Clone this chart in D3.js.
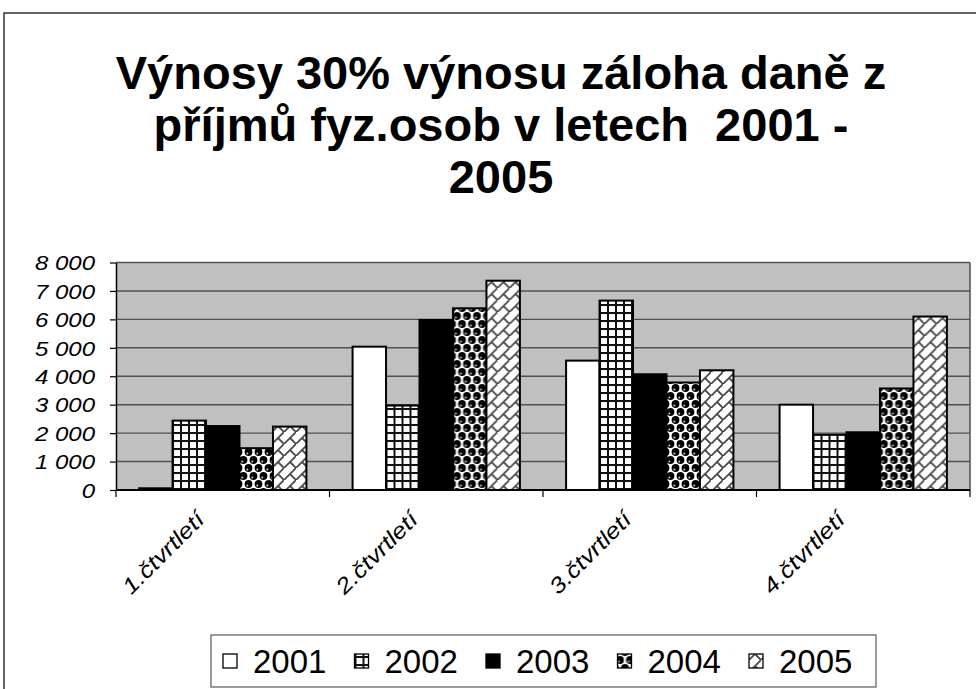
<!DOCTYPE html>
<html><head><meta charset="utf-8">
<script src="https://cdn.jsdelivr.net/npm/d3@7"></script>
<style>
html,body{margin:0;padding:0;background:#fff;}
svg{display:block;}
text{font-family:"Liberation Sans",Arial,sans-serif;}
</style></head>
<body>
<svg id="chart" width="976" height="689"></svg>
<script>
const titleLines = ["Výnosy 30% výnosu záloha daně z", "příjmů fyz.osob v letech  2001 -", "2005"];
const categories = ["1.čtvrtletí", "2.čtvrtletí", "3.čtvrtletí", "4.čtvrtletí"];
const years = ["2001", "2002", "2003", "2004", "2005"];
const v2001 = [60, 5040, 4550, 3000];
const v2002 = [2440, 2970, 6660, 1940];
const v2003 = [2250, 5980, 4070, 2030];
const v2004 = [1470, 6390, 3780, 3570];
const v2005 = [2230, 7360, 4210, 6100];
const yTicks = [0, 1000, 2000, 3000, 4000, 5000, 6000, 7000, 8000];
const yTickLabels = ["0", "1 000", "2 000", "3 000", "4 000", "5 000", "6 000", "7 000", "8 000"];

const seriesValues = [v2001, v2002, v2003, v2004, v2005];
const fills = ["#ffffff", "url(#pGrid)", "#000000", "url(#pSphere)", "url(#pBrick)"];

const svg = d3.select("#chart");
const defs = svg.append("defs");

// grid pattern
const pg = defs.append("pattern").attr("id", "pGrid").attr("patternUnits", "userSpaceOnUse")
  .attr("width", 8).attr("height", 8);
pg.append("rect").attr("width", 8).attr("height", 8).attr("fill", "#fff");
pg.append("rect").attr("x", 0).attr("y", 0).attr("width", 2).attr("height", 8).attr("fill", "#111");
pg.append("rect").attr("x", 0).attr("y", 0).attr("width", 8).attr("height", 2).attr("fill", "#111");

// sphere pattern
const ps = defs.append("pattern").attr("id", "pSphere").attr("patternUnits", "userSpaceOnUse")
  .attr("width", 10).attr("height", 16);
ps.append("rect").attr("width", 10).attr("height", 16).attr("fill", "#fff");
[[2.5, 4], [7.5, 12], [-2.5, 12], [12.5, 4], [7.5, -4], [-2.5, -4], [2.5, 20]].forEach(([cx, cy]) => {
  ps.append("circle").attr("cx", cx).attr("cy", cy).attr("r", 3.9).attr("fill", "#000");
  ps.append("circle").attr("cx", cx - 1.2).attr("cy", cy + 1.4).attr("r", 1).attr("fill", "#ccc");
});

// diagonal brick pattern
const pb = defs.append("pattern").attr("id", "pBrick").attr("patternUnits", "userSpaceOnUse")
  .attr("width", 12).attr("height", 12);
pb.append("rect").attr("width", 12).attr("height", 12).attr("fill", "#fff");
pb.append("path").attr("d", "M-1,13L13,-1M6,6L12,12").attr("stroke", "#4a4a4a").attr("stroke-width", 1.8).attr("fill", "none");

// outer frame
svg.append("path").attr("d", "M4,700V13H990").attr("fill", "none").attr("stroke", "#333").attr("stroke-width", 1.5);

// title
const title = svg.append("text").attr("text-anchor", "middle").attr("font-weight", "bold")
  .attr("font-size", 47).attr("fill", "#000");
titleLines.forEach((t, i) => {
  title.append("tspan").attr("x", 501).attr("y", 89 + i * 52).style("white-space", "pre").text(t);
});

// scales
const pLeft = 116, pRight = 970, pTop = 262.5, pBottom = 490;
const x0 = d3.scaleBand().domain(categories).range([pLeft, pRight]).padding(0);
const x1 = d3.scaleBand().domain(years).range([0, x0.bandwidth()]).paddingInner(0).paddingOuter(0.69);
const y = d3.scaleLinear().domain([0, 8000]).range([pBottom, pTop]);

// plot bg
svg.append("rect").attr("x", pLeft).attr("y", pTop).attr("width", pRight - pLeft).attr("height", pBottom - pTop).attr("fill", "#c0c0c0");

// gridlines
svg.append("g").selectAll("line").data(yTicks.filter(d => d > 0)).join("line")
  .attr("x1", pLeft).attr("x2", pRight).attr("y1", d => y(d)).attr("y2", d => y(d))
  .attr("stroke", "#505050").attr("stroke-width", 1.4);
// right border
svg.append("line").attr("x1", pRight).attr("x2", pRight).attr("y1", pTop).attr("y2", pBottom)
  .attr("stroke", "#505050").attr("stroke-width", 1.5);

// bars
const groups = svg.append("g").selectAll("g").data(categories).join("g")
  .attr("transform", d => `translate(${x0(d)},0)`);
groups.selectAll("rect").data((c, ci) => years.map((yr, si) => ({ yr, si, v: seriesValues[si][ci] }))).join("rect")
  .attr("x", d => x1(d.yr)).attr("width", x1.bandwidth())
  .attr("y", d => y(d.v)).attr("height", d => y(0) - y(d.v))
  .attr("fill", d => fills[d.si]).attr("stroke", "#000").attr("stroke-width", 2);

// y axis
const yAxis = d3.axisLeft(y).tickValues(yTicks).tickSize(6).tickSizeOuter(0)
  .tickFormat((d, i) => yTickLabels[i]);
const ya = svg.append("g").attr("transform", `translate(${pLeft},0)`).call(yAxis);
ya.select(".domain").attr("stroke", "#000").attr("stroke-width", 1.5);
ya.selectAll(".tick line").attr("stroke", "#000").attr("stroke-width", 1.2);
ya.selectAll(".tick text").attr("font-size", 20).attr("font-style", "italic").attr("fill", "#000")
  .attr("font-family", "Liberation Sans, Arial, sans-serif")
  .attr("x", -21 / 1.2).attr("dy", "0.36em").attr("transform", "scale(1.2,1)");

// x axis
svg.append("line").attr("x1", pLeft).attr("x2", pRight).attr("y1", pBottom).attr("y2", pBottom)
  .attr("stroke", "#000").attr("stroke-width", 2);
const bounds = categories.map(c => x0(c)).concat([pRight]);
svg.append("g").selectAll("line").data(bounds).join("line")
  .attr("x1", d => d).attr("x2", d => d).attr("y1", pBottom).attr("y2", pBottom + 7)
  .attr("stroke", "#000").attr("stroke-width", 1.2);
svg.append("g").selectAll("text").data(categories).join("text")
  .attr("transform", d => `translate(${x0(d) + x0.bandwidth() / 2 - 17},521) rotate(-45) scale(1.18,1)`)
  .attr("text-anchor", "end").attr("font-size", 22).attr("font-style", "italic").attr("fill", "#000")
  .text(d => d);

// legend
svg.append("rect").attr("x", 211).attr("y", 635).attr("width", 665).attr("height", 52)
  .attr("fill", "#fff").attr("stroke", "#666").attr("stroke-width", 1.3);
const lg = svg.append("g").selectAll("g").data(years).join("g")
  .attr("transform", (d, i) => `translate(${223 + i * 131.5},0)`);
lg.append("rect").attr("x", 0).attr("y", 654).attr("width", 14).attr("height", 14)
  .attr("fill", (d, i) => fills[i]).attr("stroke", "#000").attr("stroke-width", 1.3);
lg.append("text").attr("x", 30).attr("y", 673).attr("font-size", 33).attr("fill", "#000").text(d => d);
</script>
</body></html>
